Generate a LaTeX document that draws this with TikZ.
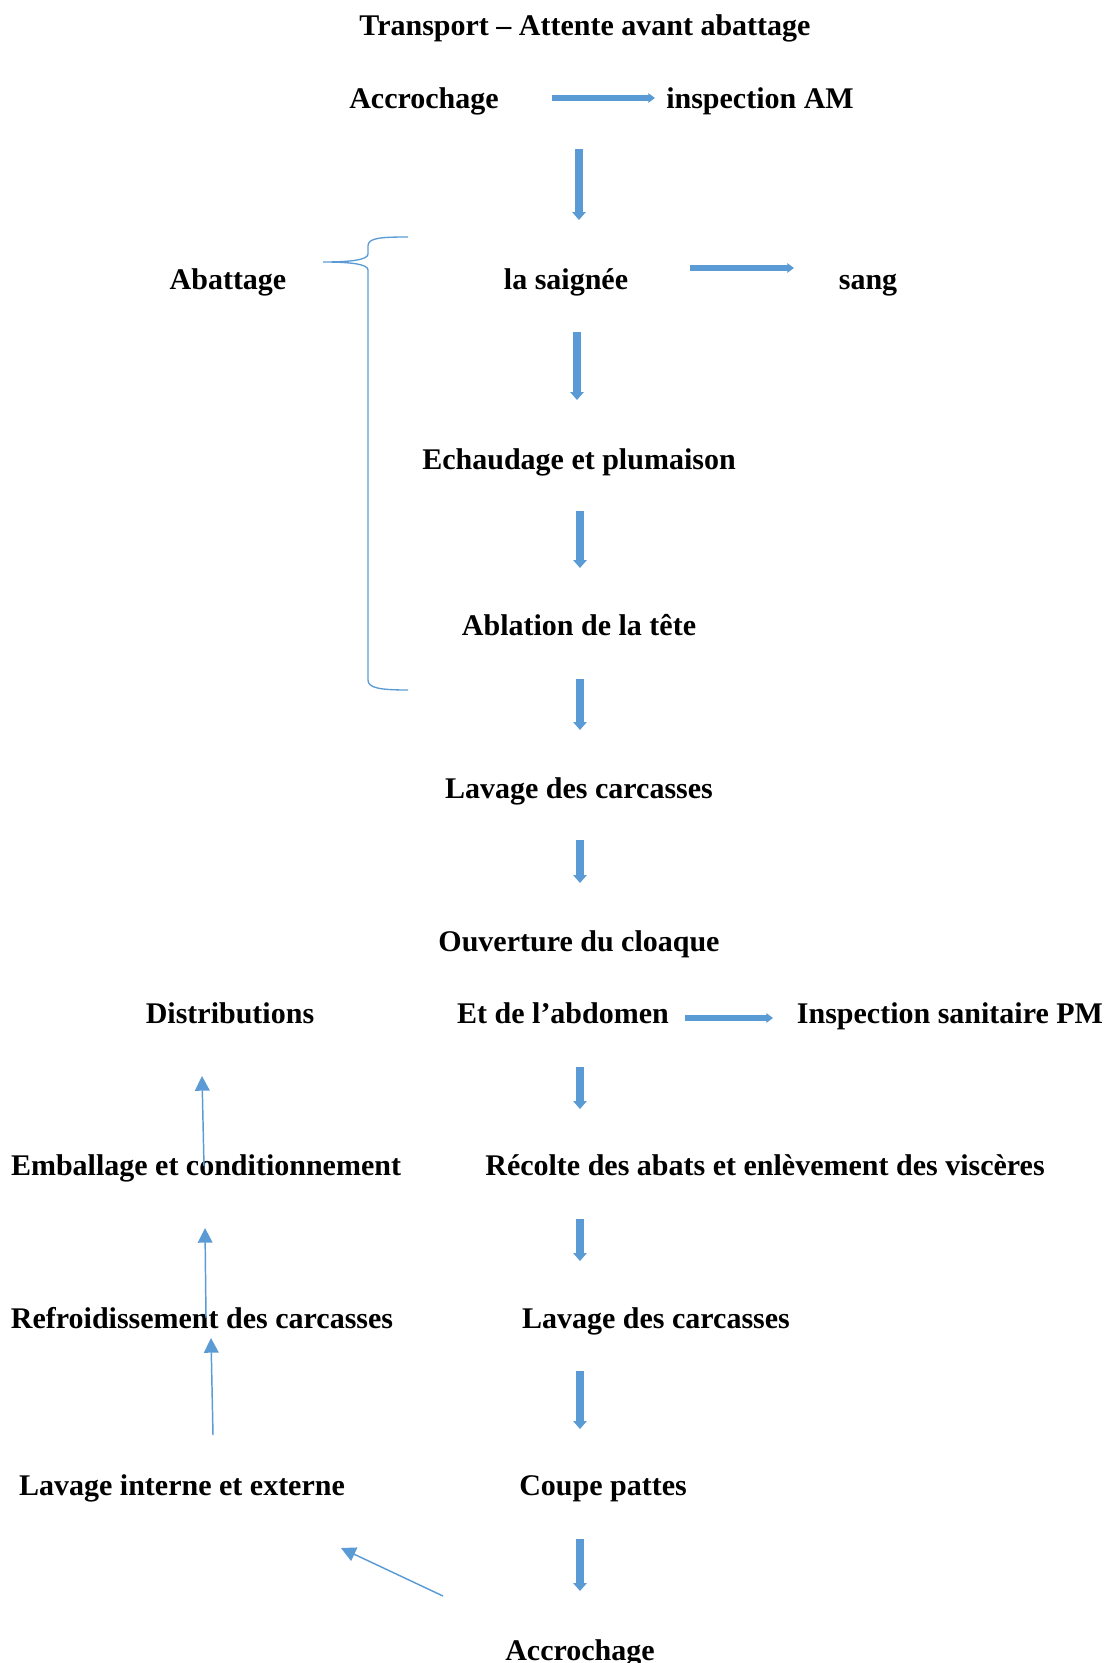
\documentclass[tikz,border=0pt]{standalone}
\usepackage{fontspec}
\setmainfont{Liberation Serif}
\usetikzlibrary{arrows.meta}
\definecolor{arrowblue}{HTML}{5B9BD5}
\begin{document}
\begin{tikzpicture}[x=0.75pt,y=-0.75pt,
  lbl/.style={font=\bfseries\fontsize{22.5}{27}\selectfont, inner sep=0pt, anchor=base},
  vblk/.style={draw=arrowblue, line width=5.5pt, -{Triangle[width=10pt,length=6pt]}},
  hblk/.style={draw=arrowblue, line width=3.8pt, -{Triangle[width=7pt,length=5pt]}},
  thinarr/.style={draw=arrowblue, line width=1.1pt, -{Triangle[width=11pt,length=11pt]}},
  bracestyle/.style={draw=arrowblue, line width=1pt}]
\useasboundingbox (0,0) rectangle (1110,1663);
\clip (0,0) rectangle (1110,1663);

% texts
\node[lbl] (title) at (585,35) {Transport -- Attente avant abattage};
\node[lbl] (acc) at (424,108) {Accrochage};
\node[lbl, anchor=base west] (insp) at (666,108) {inspection AM};
\node[lbl] (abat) at (228,289) {Abattage};
\node[lbl] (saig) at (566,289) {la saignée};
\node[lbl] (sang) at (868,289) {sang};
\node[lbl] (echa) at (579,469) {Echaudage et plumaison};
\node[lbl] (abla) at (579,635) {Ablation de la tête};
\node[lbl] (lav1) at (579,798) {Lavage des carcasses};
\node[lbl] (ouv) at (579,951) {Ouverture du cloaque};
\node[lbl] (dist) at (230,1023) {Distributions};
\node[lbl] (abdo) at (563,1023) {Et de l’abdomen};
\node[lbl] (ipm) at (950,1023) {Inspection sanitaire PM};
\node[lbl] (emb) at (206,1175) {Emballage et conditionnement};
\node[lbl] (reco) at (765,1175) {Récolte des abats et enlèvement des viscères};
\node[lbl] (refr) at (202,1328) {Refroidissement des carcasses};
\node[lbl] (lav2) at (656,1328) {Lavage des carcasses};
\node[lbl] (lavi) at (182,1495) {Lavage interne et externe};
\node[lbl] (coup) at (603,1495) {Coupe pattes};
\node[lbl] (acc2) at (580,1660) {Accrochage};

% arrow end points
\coordinate (h1s) at (552,98);  \coordinate (h1e) at (655,98);
\coordinate (v1s) at (579,149); \coordinate (v1e) at (579,220);
\coordinate (h2s) at (690,268); \coordinate (h2e) at (794,268);
\coordinate (v2s) at (577,332); \coordinate (v2e) at (577,400);
\coordinate (v3s) at (580,511); \coordinate (v3e) at (580,568);
\coordinate (v4s) at (580,679); \coordinate (v4e) at (580,730);
\coordinate (v5s) at (580,840); \coordinate (v5e) at (580,883);
\coordinate (h3s) at (685,1018); \coordinate (h3e) at (773,1018);
\coordinate (v6s) at (580,1067); \coordinate (v6e) at (580,1109);
\coordinate (v7s) at (580,1219); \coordinate (v7e) at (580,1261);
\coordinate (v8s) at (580,1371); \coordinate (v8e) at (580,1429);
\coordinate (v9s) at (580,1539); \coordinate (v9e) at (580,1591);
\coordinate (t1s) at (204,1166); \coordinate (t1e) at (202,1076);
\coordinate (t2s) at (206,1318); \coordinate (t2e) at (205,1228);
\coordinate (t3s) at (213,1435); \coordinate (t3e) at (211,1338);
\coordinate (t4s) at (443,1596); \coordinate (t4e) at (341,1548);

% block arrows
\draw[hblk] (h1s) -- (h1e);
\draw[vblk] (v1s) -- (v1e);
\draw[hblk] (h2s) -- (h2e);
\draw[vblk] (v2s) -- (v2e);
\draw[vblk] (v3s) -- (v3e);
\draw[vblk] (v4s) -- (v4e);
\draw[vblk] (v5s) -- (v5e);
\draw[hblk] (h3s) -- (h3e);
\draw[vblk] (v6s) -- (v6e);
\draw[vblk] (v7s) -- (v7e);
\draw[vblk] (v8s) -- (v8e);
\draw[vblk] (v9s) -- (v9e);

% thin arrows
\draw[thinarr] (t1s) -- (t1e);
\draw[thinarr] (t2s) -- (t2e);
\draw[thinarr] (t3s) -- (t3e);
\draw[thinarr] (t4s) -- (t4e);

% brace
\draw[bracestyle] (408,237) .. controls (380,237) and (368,238) .. (368,246) -- (368,254)
  .. controls (368,260) and (350,262) .. (323,262)
  .. controls (350,262) and (368,264) .. (368,270) -- (368,680)
  .. controls (368,688) and (380,690) .. (408,690);
\end{tikzpicture}
\end{document}
